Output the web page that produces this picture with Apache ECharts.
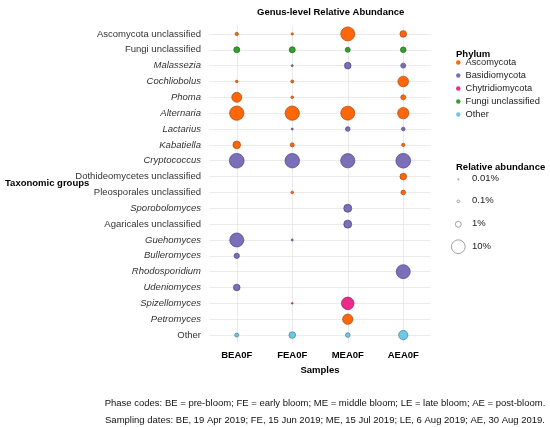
<!DOCTYPE html>
<html>
<head>
<meta charset="utf-8">
<script src="https://cdn.jsdelivr.net/npm/echarts@6/dist/echarts.min.js"></script>
<style>
html,body{margin:0;padding:0;background:#fff;}
#chart{width:550px;height:427px;}
</style>
</head>
<body>
<div id="chart"></div>
<script>
// samples (x) and taxa (y, top to bottom)
var samples = ['BEA0F', 'FEA0F', 'MEA0F', 'AEA0F'];
var taxa = ['Ascomycota unclassified', 'Fungi unclassified', 'Malassezia', 'Cochliobolus', 'Phoma',
	'Alternaria', 'Lactarius', 'Kabatiella', 'Cryptococcus', 'Dothideomycetes unclassified',
	'Pleosporales unclassified', 'Sporobolomyces', 'Agaricales unclassified', 'Guehomyces',
	'Bulleromyces', 'Rhodosporidium', 'Udeniomyces', 'Spizellomyces', 'Petromyces', 'Other'];
var taxaPhylum = ['Ascomycota', 'Fungi unclassified', 'Basidiomycota', 'Ascomycota', 'Ascomycota',
	'Ascomycota', 'Basidiomycota', 'Ascomycota', 'Basidiomycota', 'Ascomycota',
	'Ascomycota', 'Basidiomycota', 'Basidiomycota', 'Basidiomycota',
	'Basidiomycota', 'Basidiomycota', 'Basidiomycota', 'Chytridiomycota', 'Ascomycota', 'Other'];
// genus names drawn in italics
var italicTaxa = ['Malassezia', 'Cochliobolus', 'Phoma', 'Alternaria', 'Lactarius', 'Kabatiella',
	'Cryptococcus', 'Sporobolomyces', 'Guehomyces', 'Bulleromyces', 'Rhodosporidium',
	'Udeniomyces', 'Spizellomyces', 'Petromyces'];

// relative abundance (%) per sample, same order as taxa, null = absent
var bea0f = [0.19, 1.05, null, 0.096, 4.2, 11.1, null, 2.0, 12, null,
	null, null, null, 10.5, 0.74, null, 1.36, null, null, 0.34];
var fea0f = [0.066, 1.05, 0.043, 0.15, 0.096, 11.1, 0.043, 0.34, 11.5, null,
	0.096, null, null, 0.043, null, null, null, 0.021, null, 1.36];
var mea0f = [10.5, 0.63, 1.36, null, null, 10.5, 0.5, null, 11, null,
	null, 2.3, 2.3, null, null, null, null, 7.9, 4.6, 0.5];
var aea0f = [1.36, 0.87, 0.63, 5.0, 0.63, 5.9, 0.25, 0.19, 12, 1.36,
	0.5, null, null, null, null, 10.5, null, null, null, 3.5];

var phyla = ['Ascomycota', 'Basidiomycota', 'Chytridiomycota', 'Fungi unclassified', 'Other'];
var phylumColors = ['#FF6608', '#7B6FBA', '#EC2A8B', '#33A02C', '#6EC8E6'];
var phylumBorders = ['#A8480E', '#4B4280', '#9A1A5A', '#1E661A', '#3C7F95'];

var sizeLegendValues = [0.01, 0.1, 1, 10];
var sizeLegendLabels = ['0.01%', '0.1%', '1%', '10%'];

function sizeFn(v){
	return 0.3 + 5.6 * Math.pow(v, 0.38);
}

var bySample = [bea0f, fea0f, mea0f, aea0f];
var series = [];

// grid lines through the category centres
var gridLines = [];
taxa.forEach(function(t){ gridLines.push({yAxis: t}); });
samples.forEach(function(s){ gridLines.push({xAxis: s}); });
series.push({
	name: 'grid',
	type: 'scatter',
	data: [],
	z: 0,
	silent: true,
	markLine: {
		silent: true,
		z: 0,
		symbol: 'none',
		label: {show: false},
		animation: false,
		lineStyle: {color: '#E6E6E6', width: 0.8, type: 'solid'},
		data: gridLines
	}
});

phyla.forEach(function(p, pi){
	var data = [];
	bySample.forEach(function(vals, si){
		vals.forEach(function(v, ti){
			if(v != null && taxaPhylum[ti] == p){
				data.push([samples[si], taxa[ti], v]);
			}
		});
	});
	series.push({
		name: p,
		type: 'scatter',
		data: data,
		z: 5,
		symbolSize: function(val){ return sizeFn(val[2]); },
		itemStyle: {color: phylumColors[pi], borderColor: phylumBorders[pi], borderWidth: 0.7, opacity: 1}
	});
});

var graphics = [
	{type: 'text', left: 5, top: 178, style: {text: 'Taxonomic groups', font: 'bold 9.5px "Liberation Sans", Arial', fill: '#000'}},
	{type: 'text', left: 456, top: 49, style: {text: 'Phylum', font: 'bold 9.5px "Liberation Sans", Arial', fill: '#000'}},
	{type: 'text', left: 456, top: 162, style: {text: 'Relative abundance', font: 'bold 9.5px "Liberation Sans", Arial', fill: '#000'}},
	{type: 'text', x: 325, y: 398, style: {text: 'Phase codes: BE = pre-bloom; FE = early bloom; ME = middle bloom; LE = late bloom; AE = post-bloom.', font: '9.5px "Liberation Sans", Arial', fill: '#111', textAlign: 'center'}},
	{type: 'text', x: 325, y: 415, style: {text: 'Sampling dates: BE, 19 Apr 2019; FE, 15 Jun 2019; ME, 15 Jul 2019; LE, 6 Aug 2019; AE, 30 Aug 2019.', font: '9.5px "Liberation Sans", Arial', fill: '#111', textAlign: 'center'}}
];
var legendY = [179.3, 201.3, 224.3, 246.7];
sizeLegendValues.forEach(function(v, i){
	graphics.push({type: 'circle', shape: {cx: 458.3, cy: legendY[i], r: sizeFn(v) / 2},
		style: {fill: '#fff', stroke: '#8a8a8a', lineWidth: 0.8}});
	graphics.push({type: 'text', x: 472, y: legendY[i] - 5.5,
		style: {text: sizeLegendLabels[i], font: '9.5px "Liberation Sans", Arial', fill: '#222'}});
});

var richStyles = {
	n: {fontSize: 9.5, color: '#333', fontFamily: 'Liberation Sans'},
	i: {fontSize: 9.5, color: '#333', fontFamily: 'Liberation Sans', fontStyle: 'italic'}
};

var option = {
	animation: false,
	title: {
		text: 'Genus-level Relative Abundance',
		left: 252, top: 2,
		textStyle: {fontSize: 9.5, fontWeight: 'bold', color: '#000', fontFamily: 'Liberation Sans'}
	},
	legend: {
		data: phyla,
		orient: 'vertical',
		left: 456, top: 57,
		padding: 0,
		itemWidth: 4.5, itemHeight: 4.5, itemGap: 2,
		icon: 'circle',
		itemStyle: {borderWidth: 0},
		textStyle: {fontSize: 9.3, color: '#222', fontFamily: 'Liberation Sans', lineHeight: 11}
	},
	grid: {left: 209, right: 119, top: 26, bottom: 84},
	xAxis: {
		type: 'category',
		data: samples,
		name: 'Samples',
		nameLocation: 'middle',
		nameGap: 22,
		nameTextStyle: {fontSize: 9.5, fontWeight: 'bold', color: '#000', fontFamily: 'Liberation Sans'},
		axisLine: {show: false},
		axisTick: {show: false},
		splitLine: {show: false},
		axisLabel: {margin: 7, fontSize: 9.5, fontWeight: 'bold', color: '#000', fontFamily: 'Liberation Sans'}
	},
	yAxis: {
		type: 'category',
		data: taxa,
		inverse: true,
		axisLine: {show: false},
		axisTick: {show: false},
		splitLine: {show: false},
		axisLabel: {
			margin: 8,
			interval: 0,
			formatter: function(v){
				return italicTaxa.indexOf(v) >= 0 ? '{i|' + v + '}' : '{n|' + v + '}';
			},
			rich: richStyles
		}
	},
	graphic: graphics,
	series: series
};

var myChart = echarts.init(document.getElementById('chart'));
myChart.setOption(option);
</script>
</body>
</html>
